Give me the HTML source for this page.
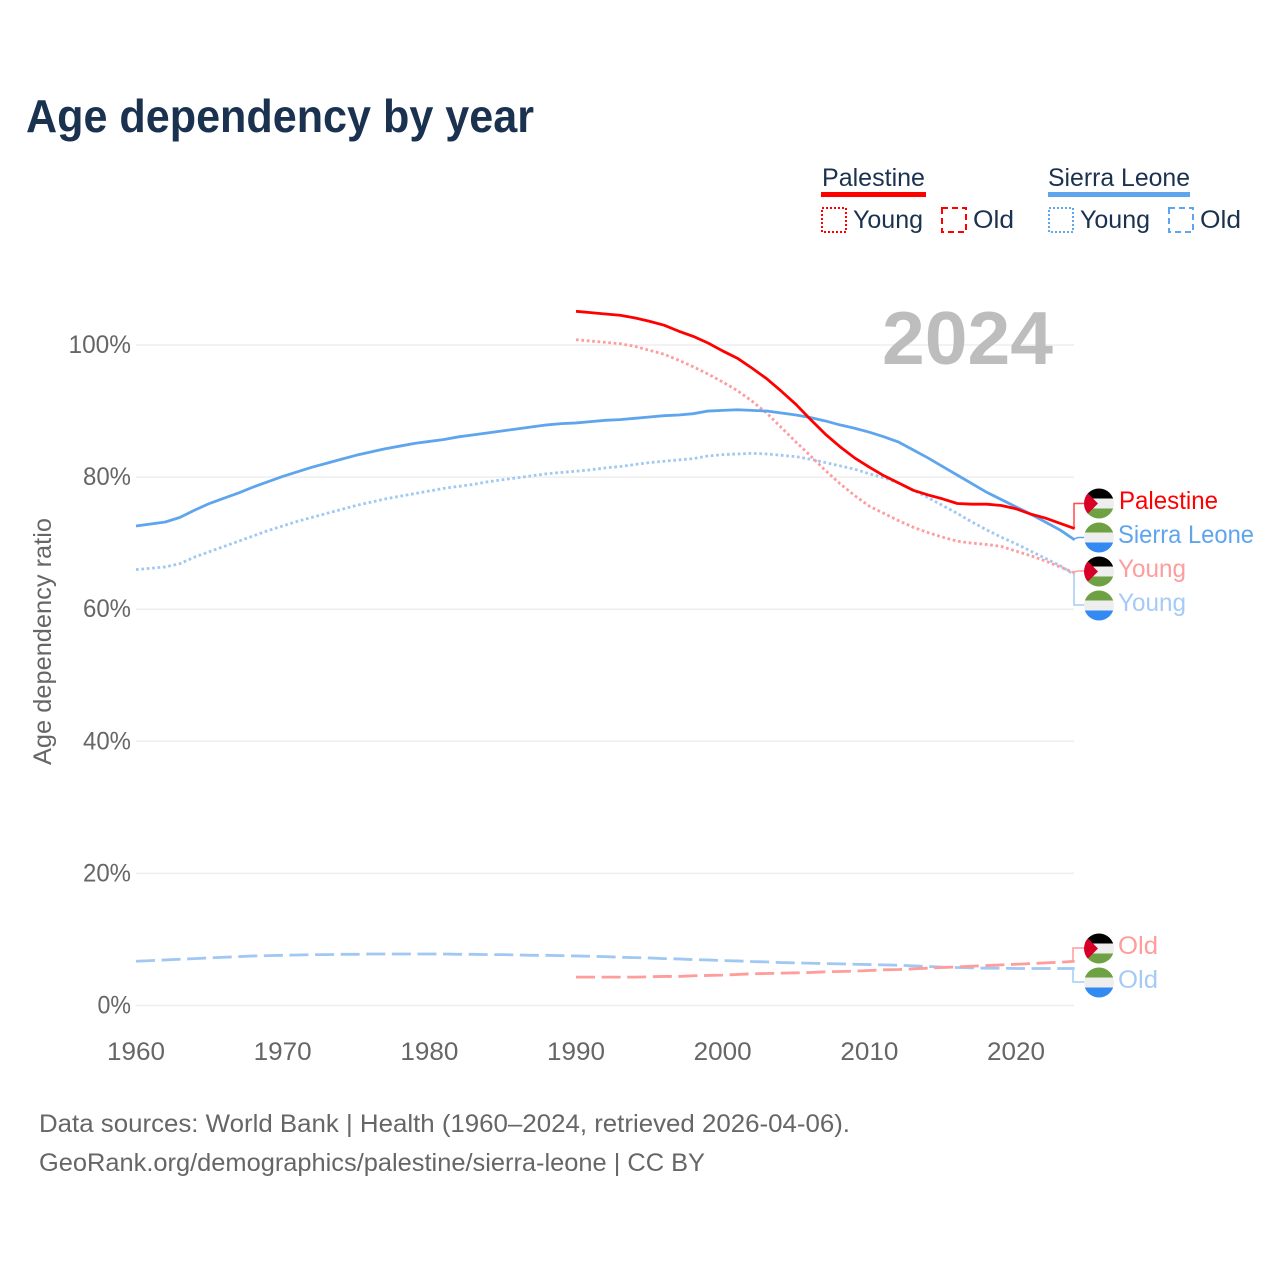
<!DOCTYPE html>
<html lang="en">
<head>
<meta charset="utf-8">
<title>Age dependency by year</title>
<style>
html,body{margin:0;padding:0;background:#fff;}
svg{display:block;}
text{font-family:"Liberation Sans",sans-serif;}
</style>
</head>
<body>
<svg id="chart" xmlns="http://www.w3.org/2000/svg" width="1280" height="1280" viewBox="0 0 1280 1280">
  <rect x="0" y="0" width="1280" height="1280" fill="#fff"/>
  <text x="26" y="132" font-size="46" font-weight="700" fill="#1a3250" textLength="508" lengthAdjust="spacingAndGlyphs">Age dependency by year</text>

  <g fill="#1a3250" font-size="25">
    <text x="822" y="186" textLength="103" lengthAdjust="spacingAndGlyphs">Palestine</text>
    <rect x="821" y="192" width="105" height="5" fill="#ff0000"/>
    <rect x="822" y="208" width="24" height="24" fill="none" stroke="#ff0000" stroke-width="2" stroke-dasharray="2 2"/>
    <text x="853" y="228" textLength="70" lengthAdjust="spacingAndGlyphs">Young</text>
    <rect x="942" y="208" width="24" height="24" fill="none" stroke="#ff0000" stroke-width="2" stroke-dasharray="6 4"/>
    <text x="973" y="228" textLength="41" lengthAdjust="spacingAndGlyphs">Old</text>
    <text x="1048" y="186" textLength="142" lengthAdjust="spacingAndGlyphs">Sierra Leone</text>
    <rect x="1048" y="192" width="142" height="5" fill="#5fa5ee"/>
    <rect x="1049" y="208" width="24" height="24" fill="none" stroke="#5fa5ee" stroke-width="2" stroke-dasharray="2 2"/>
    <text x="1080" y="228" textLength="70" lengthAdjust="spacingAndGlyphs">Young</text>
    <rect x="1169" y="208" width="24" height="24" fill="none" stroke="#5fa5ee" stroke-width="2" stroke-dasharray="6 4"/>
    <text x="1200" y="228" textLength="41" lengthAdjust="spacingAndGlyphs">Old</text>
  </g>

  <g id="grid"></g>
  <text x="882" y="364" font-size="75" font-weight="700" fill="#bdbdbd" textLength="171" lengthAdjust="spacingAndGlyphs">2024</text>
  <g id="yticks" fill="#666" font-size="25"></g>
  <g id="xticks" fill="#666" font-size="25"></g>
  <text transform="translate(51,765) rotate(-90)" font-size="25" fill="#666" textLength="247" lengthAdjust="spacingAndGlyphs">Age dependency ratio</text>
  <g id="series" fill="none" stroke-width="2.8"></g>

  <g font-size="25">
    <path d="M1074 528V503.5H1085" fill="none" stroke="#ff0000" stroke-opacity=".7" stroke-width="1.5"/>
    <path d="M1074 539L1078 537.5H1085" fill="none" stroke="#5fa5ee" stroke-width="1.5"/>
    <path d="M1074 572L1078 571H1085" fill="none" stroke="#ff9c9c" stroke-width="1.5"/>
    <path d="M1074 575V605H1085" fill="none" stroke="#a5cbf5" stroke-width="1.5"/>
    <path d="M1073 961V948H1085" fill="none" stroke="#ff9c9c" stroke-width="1.5"/>
    <path d="M1073 968V982H1085" fill="none" stroke="#a5cbf5" stroke-width="1.5"/>

    <defs>
      <clipPath id="flag-clip"><circle cx="0" cy="0" r="15"/></clipPath>
      <g id="flag-ps" clip-path="url(#flag-clip)">
        <rect x="-15" y="-15" width="30" height="10" fill="#000"/>
        <rect x="-15" y="-5" width="30" height="10" fill="#eee"/>
        <rect x="-15" y="5" width="30" height="10" fill="#6ea044"/>
        <polygon points="-19,-18 -1,0 -19,18" fill="#d80027"/>
      </g>
      <g id="flag-sl" clip-path="url(#flag-clip)">
        <rect x="-15" y="-15" width="30" height="10" fill="#6ea044"/>
        <rect x="-15" y="-5" width="30" height="10" fill="#eee"/>
        <rect x="-15" y="5" width="30" height="10" fill="#338af3"/>
      </g>
    </defs>
    <use href="#flag-ps" x="1099" y="503.5"/>
    <use href="#flag-sl" x="1099" y="537.5"/>
    <use href="#flag-ps" x="1099" y="571.5"/>
    <use href="#flag-sl" x="1099" y="605.5"/>
    <use href="#flag-ps" x="1099" y="948.5"/>
    <use href="#flag-sl" x="1099" y="982.5"/>

    <text x="1119" y="509" fill="#ff0000" textLength="99" lengthAdjust="spacingAndGlyphs">Palestine</text>
    <text x="1118" y="543" fill="#5fa5ee" textLength="136" lengthAdjust="spacingAndGlyphs">Sierra Leone</text>
    <text x="1118" y="577" fill="#ff9c9c" textLength="68" lengthAdjust="spacingAndGlyphs">Young</text>
    <text x="1118" y="611" fill="#a5cbf5" textLength="68" lengthAdjust="spacingAndGlyphs">Young</text>
    <text x="1118" y="954" fill="#ff9c9c" textLength="40" lengthAdjust="spacingAndGlyphs">Old</text>
    <text x="1118" y="988" fill="#a5cbf5" textLength="40" lengthAdjust="spacingAndGlyphs">Old</text>
  </g>

  <text x="39" y="1132" font-size="25" fill="#666" textLength="811" lengthAdjust="spacingAndGlyphs">Data sources: World Bank | Health (1960–2024, retrieved 2026-04-06).</text>
  <text x="39" y="1171" font-size="25" fill="#666" textLength="666" lengthAdjust="spacingAndGlyphs">GeoRank.org/demographics/palestine/sierra-leone | CC BY</text>
</svg>
<script>
const yTickValues = [0, 20, 40, 60, 80, 100];
const xTickYears = [1960, 1970, 1980, 1990, 2000, 2010, 2020];

const slStartYear = 1960;
const psStartYear = 1990;

const slTotal = [72.6,72.9,73.2,73.9,75.0,76.0,76.8,77.6,78.5,79.3,80.1,80.8,81.5,82.1,82.7,83.3,83.8,84.3,84.7,85.1,85.4,85.7,86.1,86.4,86.7,87.0,87.3,87.6,87.9,88.1,88.2,88.4,88.6,88.7,88.9,89.1,89.3,89.4,89.6,90.0,90.1,90.2,90.1,90.0,89.7,89.4,89.0,88.5,87.9,87.4,86.8,86.1,85.3,84.1,82.9,81.6,80.3,79.0,77.7,76.6,75.5,74.4,73.2,72.0,70.5];
const slYoung = [66.0,66.2,66.4,66.9,67.9,68.7,69.5,70.3,71.1,71.9,72.6,73.3,73.9,74.5,75.1,75.7,76.2,76.7,77.1,77.5,77.9,78.3,78.6,78.9,79.3,79.6,79.9,80.2,80.5,80.7,80.9,81.1,81.4,81.6,81.9,82.2,82.4,82.6,82.8,83.2,83.4,83.5,83.6,83.5,83.3,83.1,82.7,82.2,81.7,81.2,80.5,79.9,79.1,78.0,76.9,75.7,74.5,73.2,72.0,70.9,69.9,68.8,67.7,66.6,65.2];
const slOld = [6.7,6.8,6.9,7.0,7.1,7.2,7.3,7.4,7.5,7.55,7.6,7.65,7.7,7.7,7.75,7.75,7.8,7.8,7.8,7.8,7.8,7.8,7.75,7.75,7.7,7.7,7.65,7.6,7.6,7.55,7.5,7.45,7.4,7.3,7.25,7.2,7.1,7.05,6.95,6.9,6.8,6.75,6.65,6.6,6.5,6.45,6.4,6.35,6.3,6.25,6.2,6.15,6.1,6.0,5.9,5.8,5.75,5.7,5.65,5.65,5.6,5.6,5.6,5.6,5.6];

const psTotal = [105.1,104.9,104.7,104.5,104.1,103.6,103.0,102.1,101.3,100.3,99.1,98.0,96.5,94.9,93.0,91.0,88.7,86.5,84.6,82.9,81.5,80.2,79.1,78.0,77.3,76.7,76.0,75.9,75.9,75.7,75.2,74.4,73.8,73.0,72.2];
const psYoung = [100.8,100.6,100.4,100.2,99.8,99.2,98.6,97.7,96.7,95.6,94.4,93.1,91.5,89.7,87.5,85.3,83.2,81.0,79.0,77.2,75.6,74.5,73.4,72.4,71.6,70.9,70.3,70.0,69.8,69.5,68.8,68.1,67.3,66.4,65.5];
const psOld = [4.3,4.3,4.3,4.3,4.3,4.35,4.4,4.4,4.5,4.55,4.6,4.7,4.8,4.85,4.9,4.95,5.0,5.1,5.15,5.2,5.3,5.4,5.45,5.55,5.65,5.75,5.85,5.95,6.05,6.15,6.25,6.35,6.45,6.55,6.7];

const SVGNS = 'http://www.w3.org/2000/svg';
function xScale(year) { return 136 + (year - 1960) * 14.667; }
function yScale(value) { return 1005.5 - value * 6.605; }

const gridGroup = document.getElementById('grid');
const yTickGroup = document.getElementById('yticks');
const xTickGroup = document.getElementById('xticks');
const seriesGroup = document.getElementById('series');

yTickValues.forEach(function (v) {
  const line = document.createElementNS(SVGNS, 'line');
  line.setAttribute('x1', 136);
  line.setAttribute('x2', 1074);
  line.setAttribute('y1', yScale(v));
  line.setAttribute('y2', yScale(v));
  line.setAttribute('stroke', '#eeeeee');
  line.setAttribute('stroke-width', '1.5');
  
  
  gridGroup.appendChild(line);

  const label = document.createElementNS(SVGNS, 'text');
  const str = v + '%';
  const width = (str.length - 1) * 14.5 + 19;
  label.textContent = str;
  label.setAttribute('x', 131 - width);
  label.setAttribute('y', yScale(v) + 8);
  label.setAttribute('textLength', width);
  label.setAttribute('lengthAdjust', 'spacingAndGlyphs');
  
  
  yTickGroup.appendChild(label);
});

xTickYears.forEach(function (yr) {
  const label = document.createElementNS(SVGNS, 'text');
  label.textContent = String(yr);
  label.setAttribute('x', xScale(yr) - 29);
  label.setAttribute('y', 1060);
  label.setAttribute('textLength', 58);
  label.setAttribute('lengthAdjust', 'spacingAndGlyphs');
  
  
  xTickGroup.appendChild(label);
});

function drawSeries(values, startYear, color, dash, width, name) {
  const path = document.createElementNS(SVGNS, 'path');
  const d = values.map(function (v, i) {
    return (i ? 'L' : 'M') + xScale(startYear + i).toFixed(2) + ' ' + yScale(v).toFixed(2);
  }).join('');
  path.setAttribute('d', d);
  path.setAttribute('stroke', color);
  path.setAttribute('stroke-width', width);
  path.setAttribute('stroke-linejoin', 'round');
  if (dash) path.setAttribute('stroke-dasharray', dash);
  
  
  seriesGroup.appendChild(path);
}

drawSeries(slOld, slStartYear, '#a0c8f2', '19 6.6', 2.8, 'line-sierra-leone-old');
drawSeries(psOld, psStartYear, '#ff9c9c', '19 6.6', 2.8, 'line-palestine-old');
drawSeries(slYoung, slStartYear, '#a0c8f2', '2.7 2.7', 2.8, 'line-sierra-leone-young');
drawSeries(psYoung, psStartYear, '#ff9c9c', '2.7 2.7', 2.8, 'line-palestine-young');
drawSeries(slTotal, slStartYear, '#5fa5ee', '', 2.8, 'line-sierra-leone-total');
drawSeries(psTotal, psStartYear, '#ff0000', '', 2.8, 'line-palestine-total');
</script>
</body>
</html>
